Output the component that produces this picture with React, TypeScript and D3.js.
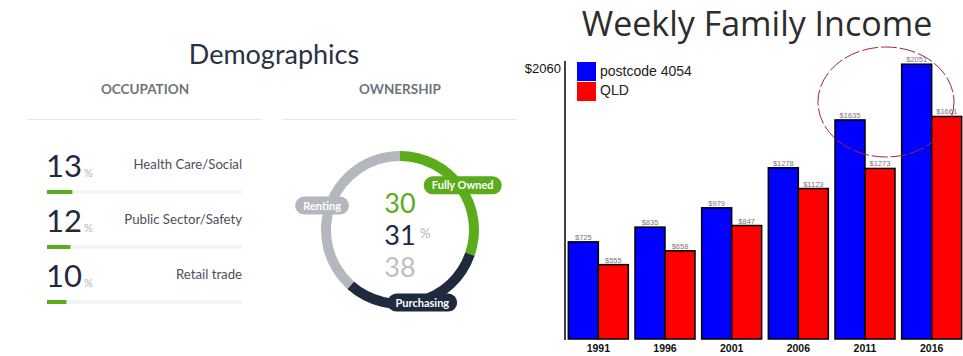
import React from "react";
import * as d3 from "d3";

// ---------- DATA ----------
const occupationLabels = ["Health Care/Social", "Public Sector/Safety", "Retail trade"];
const occupationValues = [13, 12, 10];

const ownershipLabels = ["Fully Owned", "Purchasing", "Renting"];
const ownershipValues = [30, 31, 38];

const years = ["1991", "1996", "2001", "2006", "2011", "2016"];
const postcodeIncome = [725, 835, 979, 1278, 1635, 2051];
const qldIncome = [555, 658, 847, 1123, 1273, 1661];
const seriesNames = ["postcode 4054", "QLD"];
const yMaxLabel = 2060;

// ---------- helpers ----------
const W = 963;
const H = 356;
const LEFT_FONT = "Lato, 'Open Sans', sans-serif";
const ARIAL = "'Liberation Sans', Arial, sans-serif";

let _ctx: CanvasRenderingContext2D | null = null;
function measure(text: string, font: string): number {
  if (!_ctx) {
    const c = document.createElement("canvas");
    _ctx = c.getContext("2d");
  }
  if (!_ctx) return text.length * 6;
  _ctx.font = font;
  return _ctx.measureText(text).width;
}

const GREEN = "#5aac1c";
const NAVY = "#1e2a3e";
const GRAY = "#b4b8be";
const ownershipColors = [GREEN, NAVY, GRAY];
const centerColors = [GREEN, NAVY, "#bdbfc3"];

function Demographics() {
  const trackX = d3.scaleLinear().domain([0, 100]).range([47, 242]);
  const rowY = (i: number) => 177 + i * 55;

  const cx = 400;
  const cy = 230;
  const pie = d3
    .pie<number>()
    .sort(null)
    .startAngle(0)
    .endAngle(2 * Math.PI)
    .value((d) => d);
  const arcs = pie(ownershipValues);
  const arc = d3.arc<d3.PieArcDatum<number>>().innerRadius(69).outerRadius(79);
  const labelArc = d3.arc<d3.PieArcDatum<number>>().innerRadius(77).outerRadius(77);
  const pillFont = `700 11px ${LEFT_FONT}`;
  const pillAdj: [number, number][] = [[0, 0], [3, -2], [-6, 3]];

  return (
    <g>
      <text x={274} y={64} textAnchor="middle" fontFamily={LEFT_FONT} fontSize={27} fill="#2a3142">
        Demographics
      </text>
      <text x={145} y={94} textAnchor="middle" fontFamily={LEFT_FONT} fontSize={13.5} fontWeight={700} fill="#6e737a">
        OCCUPATION
      </text>
      <text x={400} y={94} textAnchor="middle" fontFamily={LEFT_FONT} fontSize={13.5} fontWeight={700} fill="#6e737a">
        OWNERSHIP
      </text>
      <line x1={27} x2={262} y1={119.5} y2={119.5} stroke="#e6e8eb" strokeWidth={1} />
      <line x1={282} x2={517} y1={119.5} y2={119.5} stroke="#e6e8eb" strokeWidth={1} />

      {occupationValues.map((v, i) => {
        const y = rowY(i);
        const numW = measure(String(v), `400 31px ${LEFT_FONT}`);
        return (
          <g key={i}>
            <text x={46} y={y} fontFamily={LEFT_FONT} fontSize={31} fill="#1f2a3c">
              {v}
            </text>
            <text x={46 + numW + 2} y={y} fontFamily={LEFT_FONT} fontSize={11} fill="#b0b4ba">
              %
            </text>
            <text x={242} y={y - 8} textAnchor="end" fontFamily={LEFT_FONT} fontSize={13.2} fill="#4b505a">
              {occupationLabels[i]}
            </text>
            <rect x={trackX(0)} y={y + 13} width={trackX(100) - trackX(0)} height={4} fill="#f3f4f6" />
            <rect x={trackX(0)} y={y + 13} width={trackX(v) - trackX(0)} height={4} fill={GREEN} />
          </g>
        );
      })}

      <g transform={`translate(${cx},${cy})`}>
        {arcs.map((a, i) => (
          <path key={i} d={arc(a) || ""} fill={ownershipColors[i]} />
        ))}
        {ownershipValues.map((v, i) => (
          <text
            key={"c" + i}
            x={0}
            y={-17 + i * 32}
            textAnchor="middle"
            fontFamily={LEFT_FONT}
            fontSize={27}
            fill={centerColors[i]}
          >
            {v}
          </text>
        ))}
        <text x={20} y={8} fontFamily={LEFT_FONT} fontSize={13} fill="#b0b4ba">
          %
        </text>
        {arcs.map((a, i) => {
          const [px, py] = labelArc.centroid(a);
          const tw = measure(ownershipLabels[i], pillFont);
          const pw = tw + 16;
          const [ax, ay] = pillAdj[i];
          return (
            <g key={"p" + i} transform={`translate(${px + ax},${py + ay})`}>
              <rect x={-pw / 2} y={-9} width={pw} height={18} rx={9} fill={ownershipColors[i]} />
              <text x={0} y={4} textAnchor="middle" fontFamily={LEFT_FONT} fontSize={11} fontWeight={700} fill="#ffffff">
                {ownershipLabels[i]}
              </text>
            </g>
          );
        })}
      </g>
    </g>
  );
}

function IncomeChart() {
  const baseY = 339;
  const topY = 63;
  const y = d3.scaleLinear().domain([0, yMaxLabel]).range([baseY, topY]);
  const x0 = d3.scaleBand().domain(years).range([565, 965]).paddingInner(0.1).paddingOuter(0.05);
  const x1 = d3.scaleBand().domain(seriesNames).range([0, x0.bandwidth()]);
  const colors = ["#0000ff", "#ff0000"];
  const series = [postcodeIncome, qldIncome];

  return (
    <g>
      <text x={757} y={36} textAnchor="middle" fontFamily="'Open Sans', sans-serif" fontSize={34} fill="#2d2d2d">
        Weekly Family Income
      </text>
      <line x1={565} x2={565} y1={61} y2={baseY + 1} stroke="#000" strokeWidth={1.5} />
      <text x={561} y={73} textAnchor="end" fontFamily={ARIAL} fontSize={13} fill="#111">
        ${yMaxLabel}
      </text>

      {years.map((yr, gi) => (
        <g key={yr}>
          {series.map((s, si) => {
            const bx = (x0(yr) || 0) + (x1(seriesNames[si]) || 0);
            const by = y(s[gi]);
            return (
              <g key={si}>
                <rect
                  x={bx}
                  y={by}
                  width={x1.bandwidth()}
                  height={baseY - by}
                  fill={colors[si]}
                  stroke="#000"
                  strokeWidth={1.5}
                />
                <text
                  x={bx + x1.bandwidth() / 2}
                  y={by - 2}
                  textAnchor="middle"
                  fontFamily={ARIAL}
                  fontSize={7.5}
                  fill="#777"
                >
                  ${s[gi]}
                </text>
              </g>
            );
          })}
          <text
            x={(x0(yr) || 0) + x0.bandwidth() / 2}
            y={352}
            textAnchor="middle"
            fontFamily={ARIAL}
            fontSize={10.5}
            fontWeight={700}
            fill="#111"
          >
            {yr}
          </text>
        </g>
      ))}

      {seriesNames.map((n, i) => (
        <g key={n}>
          <rect x={577} y={62 + i * 20} width={19} height={19} fill={colors[i]} />
          <text x={600} y={76 + i * 19} fontFamily={ARIAL} fontSize={14} fill="#222">
            {n}
          </text>
        </g>
      ))}

      <ellipse
        cx={886}
        cy={102}
        rx={68}
        ry={55}
        fill="none"
        stroke="#a3243a"
        strokeWidth={1}
        strokeDasharray="16 3"
      />
    </g>
  );
}

export default function App() {
  return (
    <svg
      width={W}
      height={H}
      style={{ position: "absolute", left: 0, top: 0, background: "#fff" }}
      xmlns="http://www.w3.org/2000/svg"
    >
      <rect x={0} y={0} width={W} height={H} fill="#fff" />
      <Demographics />
      <IncomeChart />
    </svg>
  );
}
